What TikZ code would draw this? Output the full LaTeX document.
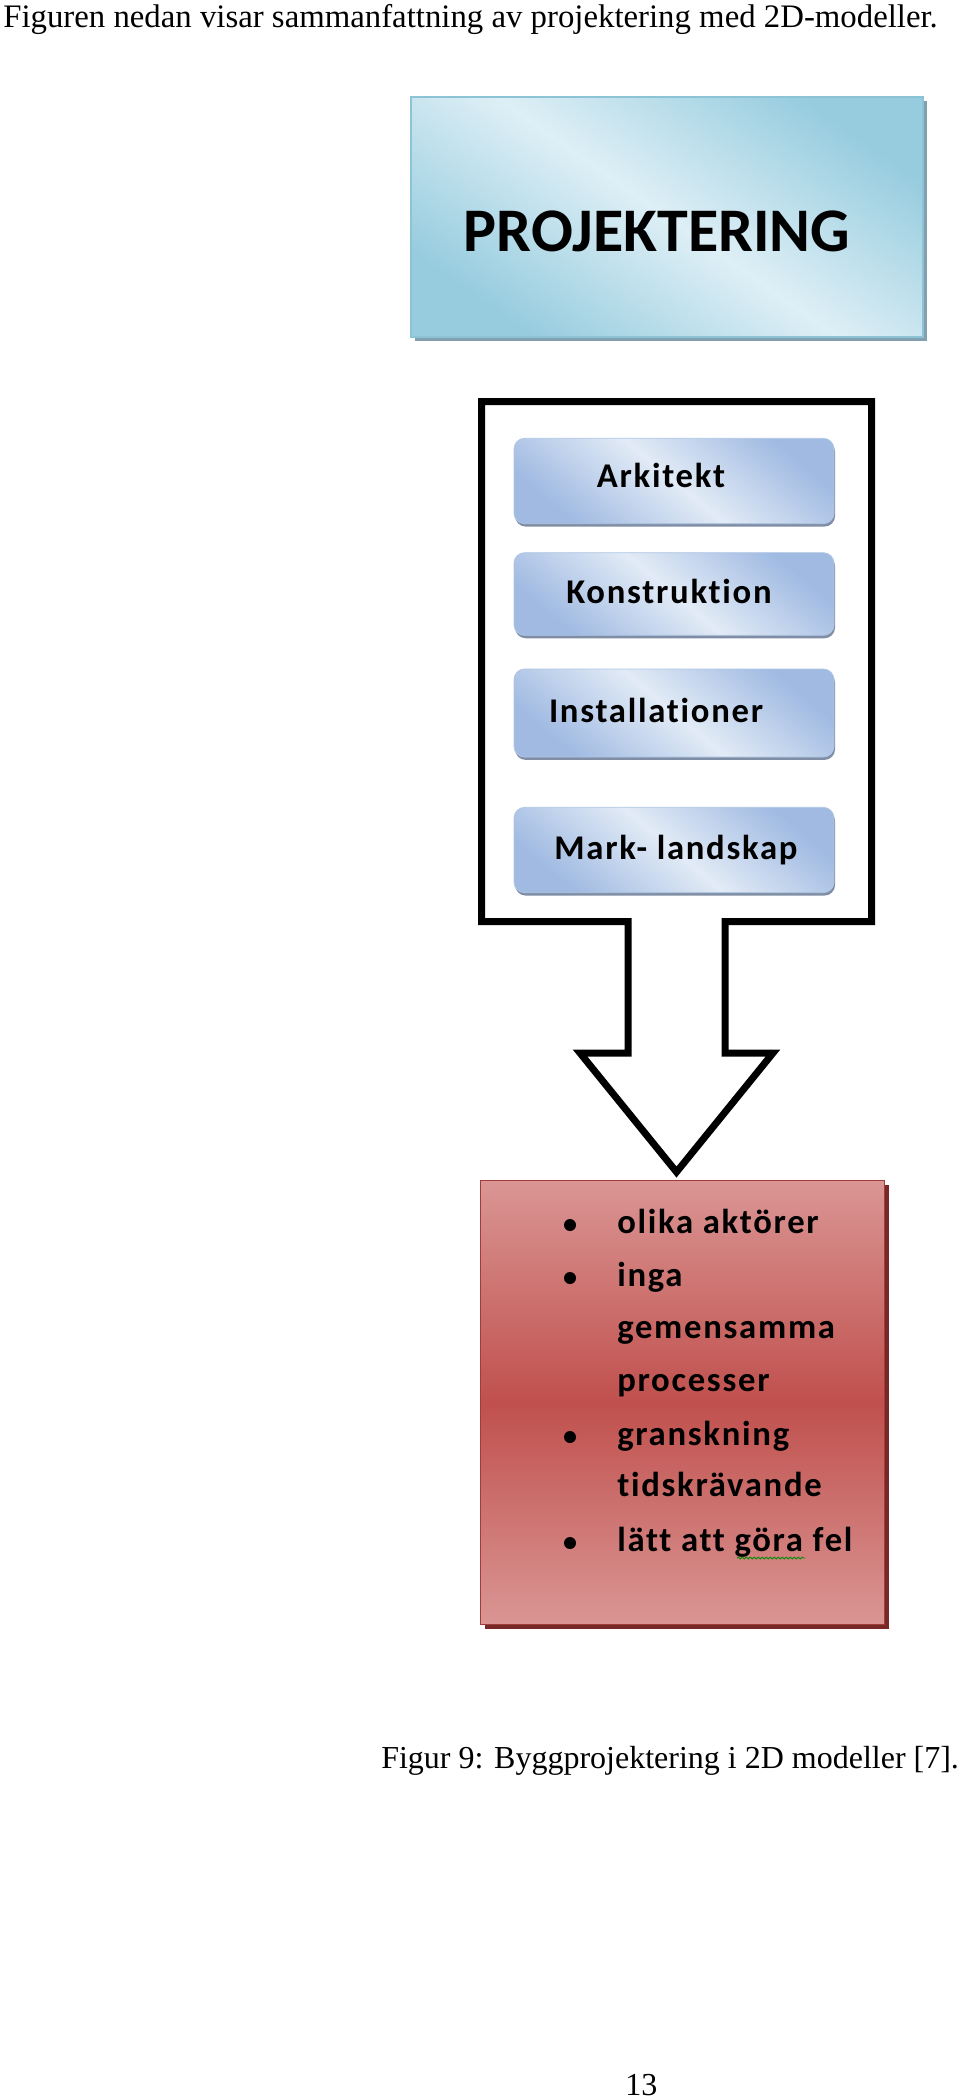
\documentclass[tikz,border=0pt]{standalone}
\usepackage{fontspec}
\setmainfont{Liberation Serif}
\newfontfamily\calb{Carlito}[Ligatures=NoCommon]
\newfontfamily\calbs{Carlito}[Ligatures=NoCommon, LetterSpace=5]
\usetikzlibrary{shadows,decorations.pathmorphing}
\definecolor{hdark}{RGB}{150,204,222}
\definecolor{hlight}{RGB}{222,239,246}
\definecolor{hborder}{RGB}{140,196,214}
\definecolor{hshadow}{RGB}{130,160,176}
\definecolor{bdark}{RGB}{160,186,226}
\definecolor{blight}{RGB}{226,235,246}
\definecolor{bborder}{RGB}{175,198,228}
\definecolor{bshadow}{RGB}{128,142,165}
\definecolor{rtop}{RGB}{218,150,148}
\definecolor{rmid}{RGB}{192,80,77}
\definecolor{rborder}{RGB}{160,60,58}
\definecolor{rshadow}{RGB}{120,40,38}
\pgfdeclarehorizontalshading{hglossy}{100bp}{color(0bp)=(hdark); color(25bp)=(hdark); color(50bp)=(hlight); color(75bp)=(hdark); color(100bp)=(hdark)}
\pgfdeclarehorizontalshading{bglossy}{100bp}{color(0bp)=(bdark); color(25bp)=(bdark); color(50bp)=(blight); color(75bp)=(bdark); color(100bp)=(bdark)}
\tikzset{
  headbox/.style={rectangle, draw=hborder, line width=0.8pt, shading=hglossy, shading angle=55,
    minimum width=384pt, minimum height=180pt, inner sep=0pt,
    drop shadow={shadow xshift=3pt, shadow yshift=-3pt, fill=hshadow, opacity=1}},
  rolebox/.style={rectangle, rounded corners=8pt, draw=bborder, line width=0.6pt, shading=bglossy, shading angle=50,
    minimum width=240pt, minimum height=64pt, inner sep=0pt,
    drop shadow={shadow xshift=0.8pt, shadow yshift=-2.2pt, fill=bshadow, opacity=1}},
  redbox/.style={rectangle, draw=rborder, line width=0.8pt, top color=rtop, bottom color=rtop, middle color=rmid,
    minimum width=303pt, minimum height=333pt, inner sep=0pt,
    drop shadow={shadow xshift=3pt, shadow yshift=-3pt, fill=rshadow, opacity=1}},
  frame/.style={draw=black, fill=white, line width=5.25pt, line join=miter, miter limit=10},
  rolelabel/.style={anchor=base, inner sep=0pt, font=\calbs\bfseries\fontsize{26}{30}\selectfont},
  itemtext/.style={anchor=base west, inner sep=0pt, font=\calbs\bfseries\fontsize{26}{30}\selectfont},
  bulletdot/.style={circle, fill=black, inner sep=0pt, minimum size=9pt},
  bodytext/.style={anchor=base west, inner sep=0pt, font=\fontsize{24}{28}\selectfont},
}
\begin{document}
\begin{tikzpicture}[x=0.75pt,y=-0.75pt]
\useasboundingbox[fill=white] (0,0) rectangle (960,2099);

% intro text
\node[bodytext, font=\fontsize{24.6}{28}\selectfont] (intro) at (3,27) {Figuren nedan visar sammanfattning av projektering med 2D-modeller.};

% header box
\node[headbox] (proj) at (667,217) {};
\node[anchor=base, inner sep=0pt, font=\calb\bfseries\fontsize{46.5}{50}\selectfont] (projtext) at (657,251) {PROJEKTERING};

% arrow frame
\draw[frame] (481.5,401.5) -- (871.5,401.5) -- (871.5,921.5) -- (725,921.5) -- (725,1053)
  -- (773,1053) -- (676.5,1172) -- (580,1053) -- (628,1053) -- (628,921.5) -- (481.5,921.5) -- cycle;

% role boxes
\node[rolebox] (ark) at (674,481) {};
\node[rolebox, minimum height=62pt] (kon) at (674,594) {};
\node[rolebox, minimum height=66pt] (ins) at (674,713) {};
\node[rolebox, minimum height=64pt] (mark) at (674,850) {};
\node[rolelabel] (arkl) at (661,487) {Arkitekt};
\node[rolelabel] (konl) at (669,603) {Konstruktion};
\node[rolelabel] (insl) at (656,722) {Installationer};
\node[rolelabel] (markl) at (676,859) {Mark- landskap};

% red box
\node[redbox] (red) at (682.5,1402.5) {};
\node[bulletdot] (b1) at (570,1225) {};
\node[bulletdot] (b2) at (570,1278) {};
\node[bulletdot] (b3) at (570,1437) {};
\node[bulletdot] (b4) at (570,1543) {};
\node[itemtext] (t1) at (617,1233) {olika aktörer};
\node[itemtext] (t2) at (617,1286) {inga};
\node[itemtext] (t3) at (617,1338) {gemensamma};
\node[itemtext] (t4) at (617,1391) {processer};
\node[itemtext] (t5) at (617,1445) {granskning};
\node[itemtext] (t6) at (617,1496) {tidskrävande};
\node[itemtext] (t7) at (617,1551) {lätt att göra fel};
\draw[decorate, decoration={snake, amplitude=0.7pt, segment length=3pt}, color=green!55!black, line width=0.6pt] (737,1558) -- (805,1558);

% caption and page number
\node[bodytext] (cap) at (381,1768) {Figur 9: Byggprojektering i 2D modeller [7].};
\node[bodytext] (pnum) at (625,2095) {13};
\end{tikzpicture}
\end{document}
